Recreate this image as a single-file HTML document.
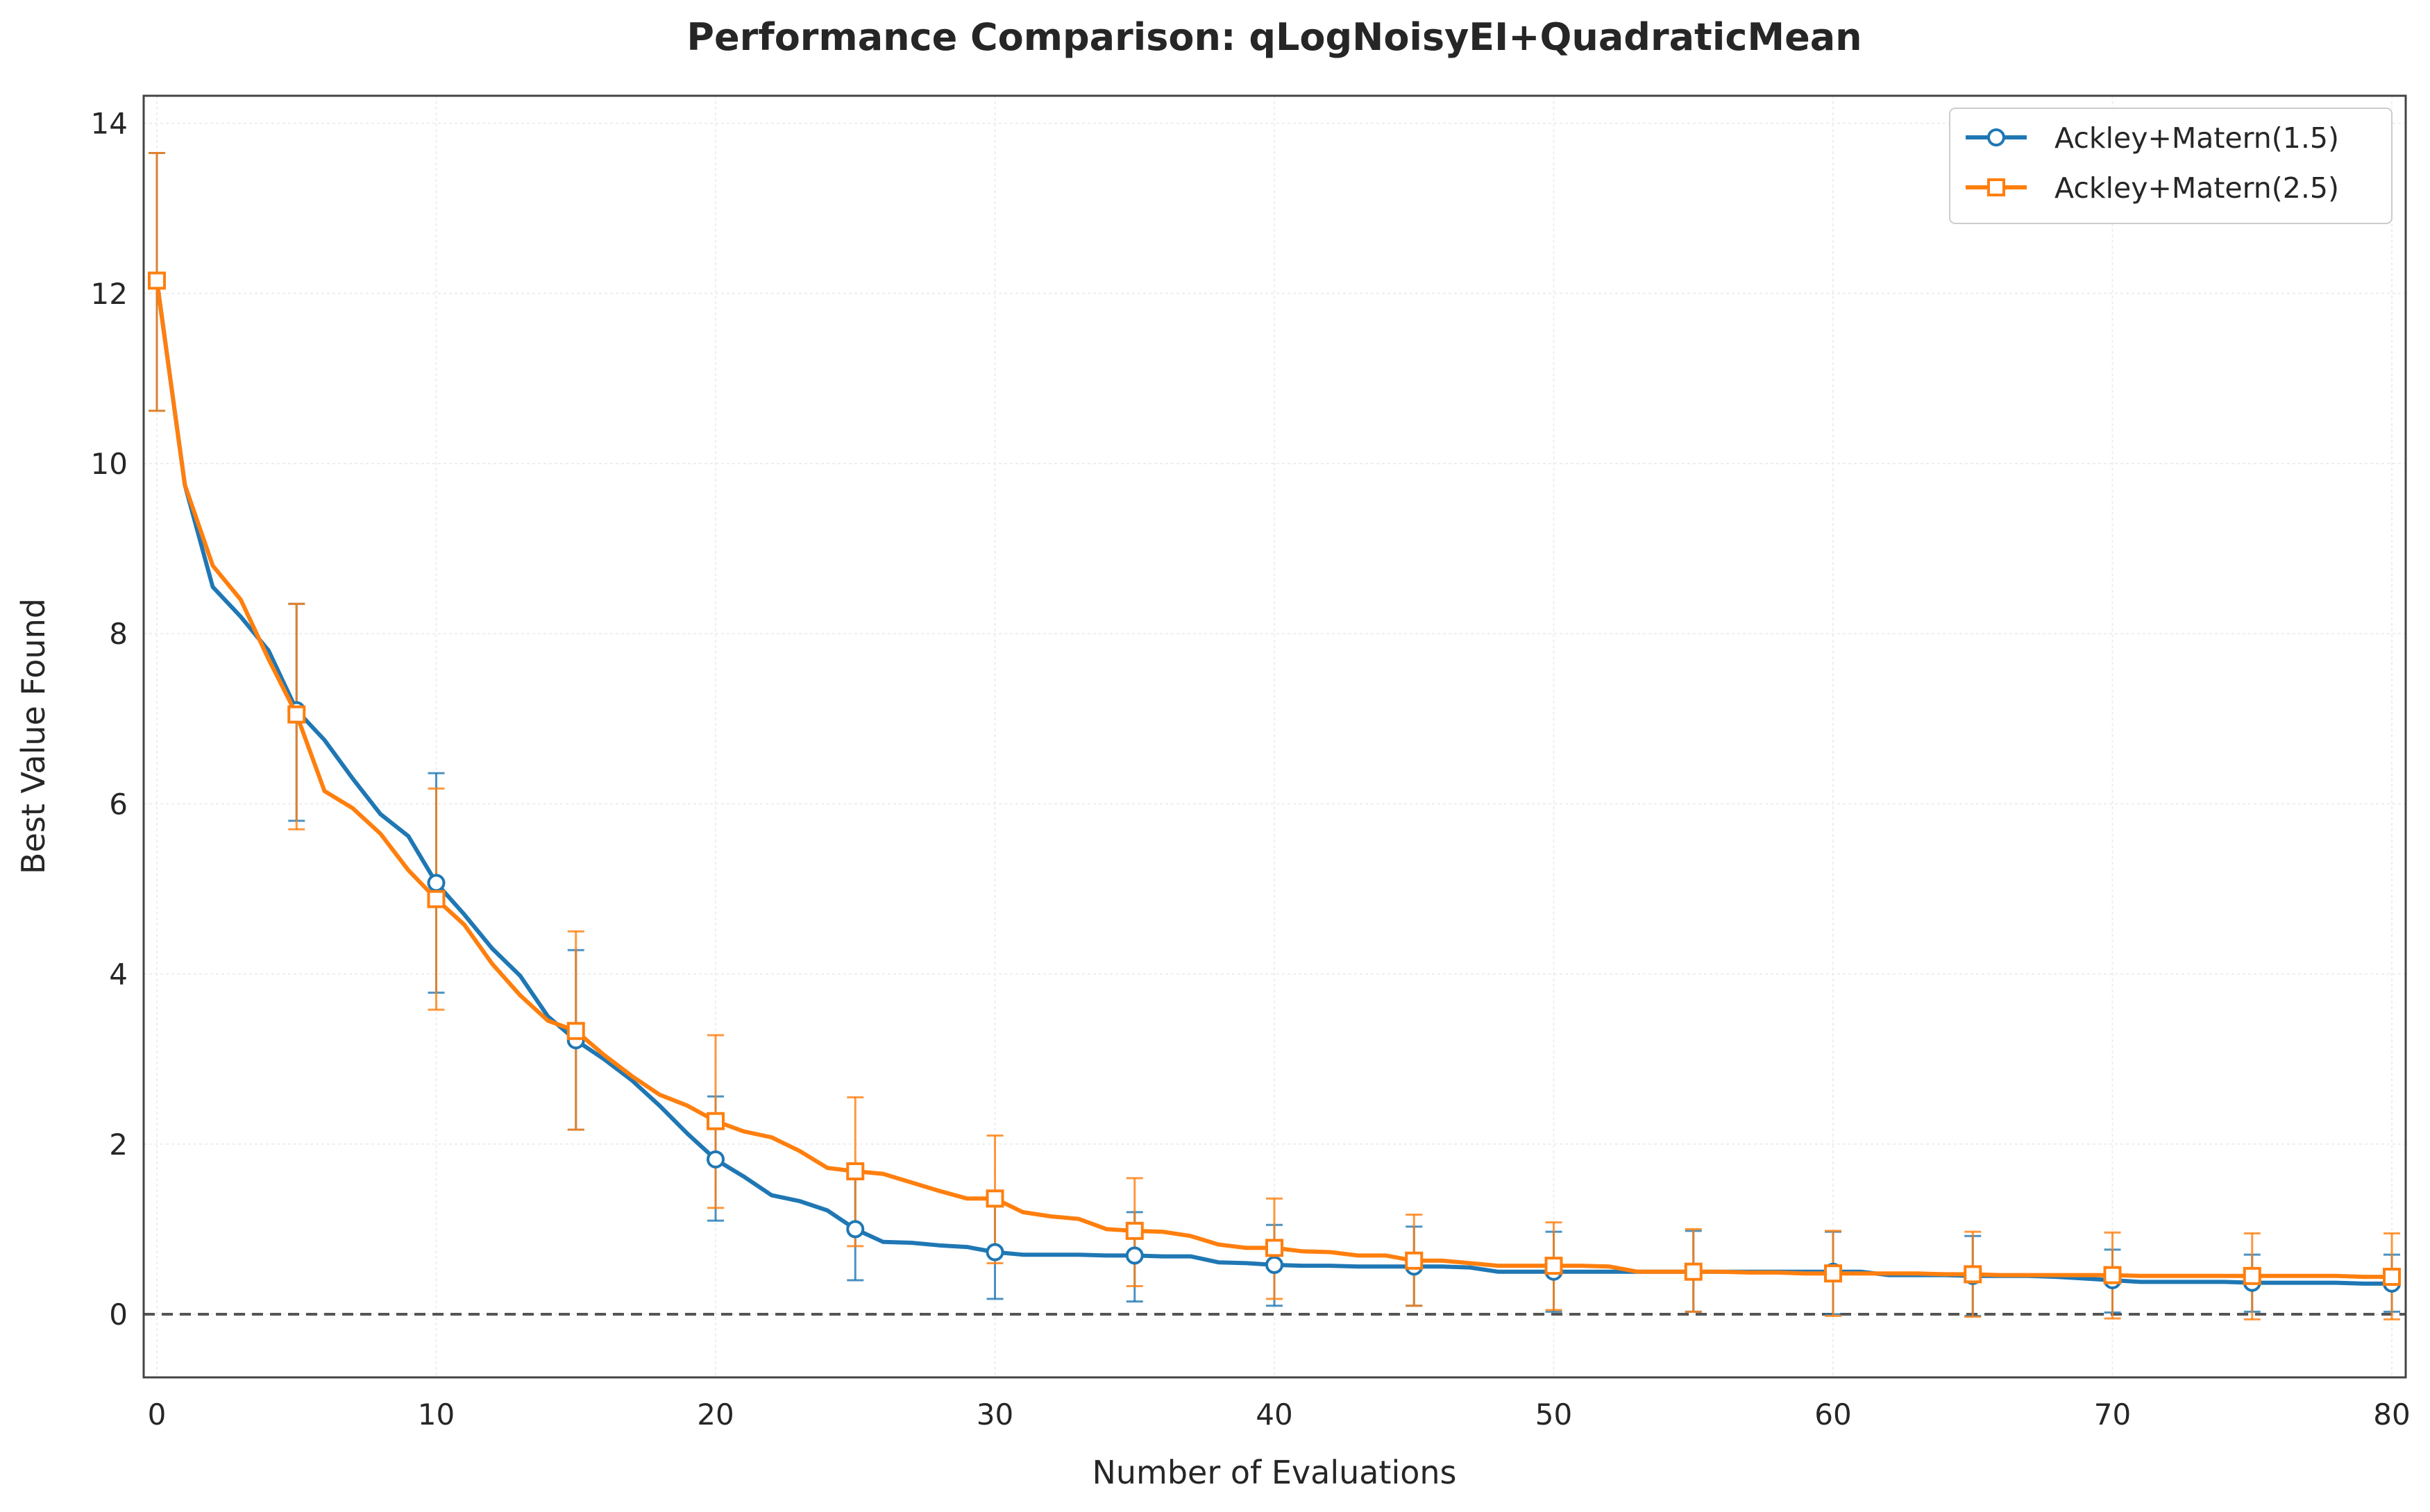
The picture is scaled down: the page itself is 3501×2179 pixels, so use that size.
<!DOCTYPE html>
<html><head><meta charset="utf-8">
<style>
html,body{margin:0;padding:0;background:#fff;}
svg{display:block;font-family:"DejaVu Sans","Liberation Sans",sans-serif;}
</style></head>
<body>
<svg id="chart" width="3501" height="2179" viewBox="0 0 3501 2179" xmlns="http://www.w3.org/2000/svg">
<rect x="0" y="0" width="3501" height="2179" fill="#fff"/>
<text x="1836" y="72" text-anchor="middle" font-size="54" font-weight="bold" fill="#262626">Performance Comparison: qLogNoisyEI+QuadraticMean</text>
<g id="grid"></g>
<g id="plot"></g>
<rect x="207" y="138" width="3259" height="1847" fill="none" stroke="#444" stroke-width="3"/>
<g id="ticks"></g>
<text x="1836" y="2138" text-anchor="middle" font-size="46" fill="#262626">Number of Evaluations</text>
<text transform="translate(64,1061) rotate(-90)" text-anchor="middle" font-size="46" fill="#262626">Best Value Found</text>
<g>
<rect x="2809" y="156" width="637" height="166" rx="8" fill="#fff" stroke="#ccc" stroke-width="2"/>
<g>
<line x1="2832" y1="198" x2="2920" y2="198" stroke="#1f77b4" stroke-width="6"/>
<circle cx="2876" cy="198" r="11" fill="#fff" stroke="#1f77b4" stroke-width="4"/>
<text x="2960" y="213" font-size="41" fill="#262626">Ackley+Matern(1.5)</text>
</g>
<g>
<line x1="2832" y1="270" x2="2920" y2="270" stroke="#ff7f0e" stroke-width="6"/>
<rect x="2865" y="259" width="22" height="22" fill="#fff" stroke="#ff7f0e" stroke-width="4"/>
<text x="2960" y="285" font-size="41" fill="#262626">Ackley+Matern(2.5)</text>
</g>
</g>
</svg>
<script>
const evals = Array.from({length:81},(_,i)=>i);
const blueVals = [12.15,9.75,8.55,8.2,7.8,7.1,6.75,6.3,5.88,5.62,5.07,4.7,4.3,3.98,3.5,3.22,3.0,2.75,2.45,2.12,1.82,1.62,1.4,1.33,1.22,1.0,0.85,0.84,0.81,0.79,0.73,0.70,0.70,0.70,0.69,0.69,0.68,0.68,0.61,0.6,0.58,0.57,0.57,0.56,0.56,0.56,0.56,0.55,0.5,0.5,0.5,0.5,0.5,0.5,0.5,0.5,0.5,0.5,0.5,0.5,0.5,0.5,0.46,0.46,0.46,0.45,0.45,0.45,0.44,0.42,0.40,0.38,0.38,0.38,0.38,0.37,0.37,0.37,0.37,0.36,0.36];
const orangeVals = [12.15,9.75,8.8,8.4,7.7,7.05,6.15,5.95,5.65,5.22,4.88,4.58,4.12,3.75,3.45,3.33,3.05,2.8,2.58,2.45,2.27,2.15,2.08,1.92,1.72,1.68,1.65,1.55,1.45,1.36,1.36,1.2,1.15,1.12,1.0,0.98,0.97,0.92,0.82,0.78,0.78,0.74,0.73,0.69,0.69,0.63,0.63,0.6,0.57,0.57,0.57,0.57,0.56,0.5,0.5,0.5,0.5,0.49,0.49,0.48,0.48,0.48,0.48,0.48,0.47,0.47,0.46,0.46,0.46,0.46,0.46,0.45,0.45,0.45,0.45,0.45,0.45,0.45,0.45,0.44,0.44];
const errX = [0,5,10,15,20,25,30,35,40,45,50,55,60,65,70,75,80];
const blueLo = [10.62,5.8,3.78,2.17,1.1,0.4,0.18,0.15,0.1,0.1,0.03,0.03,0.0,-0.02,0.02,0.03,0.03];
const blueHi = [13.65,8.35,6.36,4.28,2.56,1.6,1.28,1.2,1.05,1.03,0.97,0.98,0.97,0.92,0.76,0.7,0.7];
const orangeLo = [10.62,5.7,3.58,2.17,1.25,0.8,0.6,0.33,0.18,0.1,0.05,0.03,-0.02,-0.03,-0.05,-0.06,-0.06];
const orangeHi = [13.65,8.35,6.18,4.5,3.28,2.55,2.1,1.6,1.36,1.17,1.08,1.0,0.98,0.97,0.96,0.95,0.95];
const xTicks = [0,10,20,30,40,50,60,70,80];
const yTicks = [0,2,4,6,8,10,12,14];

const NS="http://www.w3.org/2000/svg";
const X = v => 226 + v*40.25;
const Y = v => 1894 - v*122.6;
function mk(tag, attrs, parent){const e=document.createElementNS(NS,tag);for(const k in attrs)e.setAttribute(k,attrs[k]);parent.appendChild(e);return e;}
const grid=document.getElementById('grid'), plot=document.getElementById('plot'), ticks=document.getElementById('ticks');

xTicks.forEach(t=>{
  const l=mk('line',{x1:X(t),x2:X(t),y1:138,y2:1985,stroke:'#eee','stroke-width':2,'stroke-dasharray':'4,4'},grid);
  
  
  const tx=mk('text',{x:X(t),y:2053,'text-anchor':'middle','font-size':42,fill:'#262626'},ticks);
  tx.textContent=t;
  
  
});
yTicks.forEach(t=>{
  const l=mk('line',{x1:207,x2:3466,y1:Y(t),y2:Y(t),stroke:'#eee','stroke-width':2,'stroke-dasharray':'4,4'},grid);
  
  
  const tx=mk('text',{x:184,y:Y(t)+15,'text-anchor':'end','font-size':42,fill:'#262626'},ticks);
  tx.textContent=t;
  
  
});
const zl=mk('line',{x1:207,x2:3466,y1:Y(0),y2:Y(0),stroke:'#555','stroke-width':4,'stroke-dasharray':'16,10'},plot);



function errorbars(lo,hi,color,name){
  errX.forEach((x,i)=>{
    const g=mk('g',{},plot);
    
    
    mk('line',{x1:X(x),x2:X(x),y1:Y(lo[i]),y2:Y(hi[i]),stroke:color,'stroke-width':3,opacity:0.8},g);
    mk('line',{x1:X(x)-12,x2:X(x)+12,y1:Y(lo[i]),y2:Y(lo[i]),stroke:color,'stroke-width':3,opacity:0.8},g);
    mk('line',{x1:X(x)-12,x2:X(x)+12,y1:Y(hi[i]),y2:Y(hi[i]),stroke:color,'stroke-width':3,opacity:0.8},g);
  });
}
function series(vals,color,name,marker){
  const d=vals.map((v,i)=>(i?'L':'M')+X(evals[i]).toFixed(1)+','+Y(v).toFixed(1)).join(' ');
  const p=mk('path',{d:d,fill:'none',stroke:color,'stroke-width':6,'stroke-linejoin':'round'},plot);
  
  
  errX.forEach(x=>{
    const v=vals[x];
    let m;
    if(marker==='circle') m=mk('circle',{cx:X(x),cy:Y(v),r:11,fill:'#fff',stroke:color,'stroke-width':4},plot);
    else m=mk('rect',{x:X(x)-11,y:Y(v)-11,width:22,height:22,fill:'#fff',stroke:color,'stroke-width':4},plot);
    
    
  });
}
errorbars(blueLo,blueHi,'#1f77b4','matern15-errorbar');
errorbars(orangeLo,orangeHi,'#ff7f0e','matern25-errorbar');
series(blueVals,'#1f77b4','matern15','circle');
series(orangeVals,'#ff7f0e','matern25','square');
</script>
</body></html>
